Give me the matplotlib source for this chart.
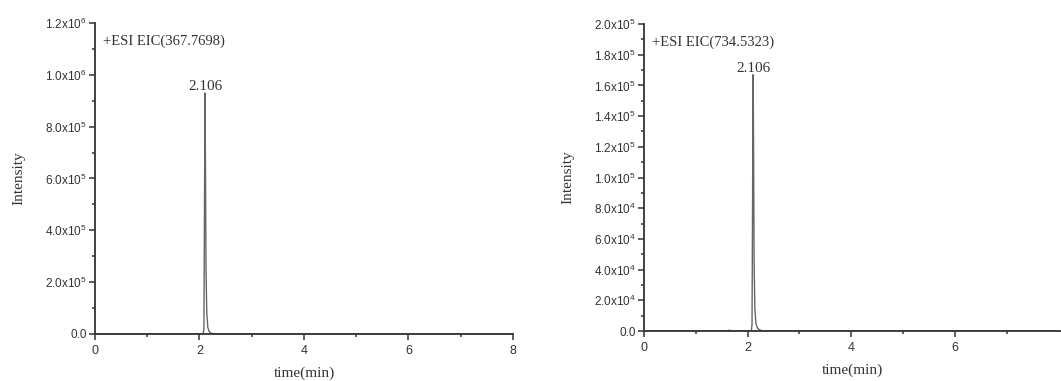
import numpy as np
import matplotlib.pyplot as plt
from matplotlib.ticker import FixedLocator, MultipleLocator

plt.rcParams['font.family'] = ['Liberation Sans', 'DejaVu Sans']
plt.rcParams['mathtext.fontset'] = 'custom'
plt.rcParams['mathtext.rm'] = 'Liberation Sans'
plt.rcParams['mathtext.it'] = 'Liberation Sans'

# retention time (min) and intensity
t1 = [0, 1.0, 2.0, 2.07, 2.085, 2.095, 2.106, 2.115, 2.125, 2.14, 2.16, 2.19, 2.23, 2.3, 8.0]
y1 = [0, 0, 0, 0, 2.0e4, 4.5e5, 9.3e5, 6.5e5, 2.5e5, 8.0e4, 2.5e4, 8.0e3, 2.5e3, 0, 0]

t2 = [0, 1.0, 1.6, 1.65, 1.7, 2.0, 2.07, 2.085, 2.095, 2.106, 2.115, 2.125, 2.14, 2.16, 2.19, 2.23, 2.3, 8.0]
y2 = [0, 0, 0, 6.0e2, 0, 0, 0, 4.0e3, 8.0e4, 1.67e5, 1.2e5, 4.5e4, 1.4e4, 5.0e3, 2.0e3, 8.0e2, 0, 0]

peak_rt = 2.106
labels = ['+ESI EIC(367.7698)', '+ESI EIC(734.5323)']

serif = ['Liberation Serif', 'DejaVu Serif']


def sci_fmt(v, exp):
    if v == 0:
        return '0.0'
    return '%.1fx10$^{%d}$' % (v / 10 ** exp, exp)


fig = plt.figure(figsize=(10.61, 3.81), dpi=100)
ax1 = fig.add_axes([0.0895, 0.1234, 0.394, 0.8162])
ax2 = fig.add_axes([0.607, 0.131, 0.393, 0.806])

setups = [
    (ax1, t1, y1, 1.2e6, 2e5, 1e5, 6, 5, labels[0], [0, 2, 4, 6, 8], 8.0),
    (ax2, t2, y2, 2.0e5, 2e4, 1e4, 5, 4, labels[1], [0, 2, 4, 6], 8.05),
]

for ax, t, y, ymax, ymaj, ymin, e_hi, e_lo, lab, xt, xmax in setups:
    ax.plot(t, y, color='#666666', lw=1.0)
    ax.set_xlim(0, xmax)
    ax.set_ylim(0, ymax)
    for s in ['top', 'right']:
        ax.spines[s].set_visible(False)
    for s in ['left', 'bottom']:
        ax.spines[s].set_linewidth(1.3)
        ax.spines[s].set_color('#333333')
    ax.xaxis.set_major_locator(FixedLocator(xt))
    ax.xaxis.set_minor_locator(FixedLocator([1, 3, 5, 7]))
    yt = np.arange(0, ymax + ymaj / 2, ymaj)
    ax.yaxis.set_major_locator(FixedLocator(yt))
    ax.yaxis.set_minor_locator(MultipleLocator(ymin))
    ylabs = []
    for v in yt:
        e = e_hi if v >= 10 ** e_hi - 1 else e_lo
        ylabs.append(sci_fmt(v, e))
    ax.set_yticklabels(ylabs)
    ax.tick_params(axis='y', which='major', direction='out', length=4, width=1.1,
                   labelsize=8.5, colors='#333333', pad=2)
    ax.tick_params(axis='x', which='major', direction='out', length=4, width=1.1,
                   labelsize=9, colors='#333333', pad=4)
    ax.tick_params(which='minor', direction='out', length=2.5, width=1.1, colors='#333333')
    ax.set_ylabel('Intensity', fontsize=11, family=serif, color='#333333', labelpad=14)
    ax.set_xlabel('time(min)', fontsize=11, family=serif, color='#333333', labelpad=7)
    ax.text(0.02, 0.94, lab, transform=ax.transAxes, fontsize=10.5, family=serif,
            color='#333333', va='center', ha='left')
    ax.text(peak_rt, max(y), '2.106', fontsize=11, family=serif, color='#333333',
            ha='center', va='bottom')

fig.savefig('out.png', dpi=100)
